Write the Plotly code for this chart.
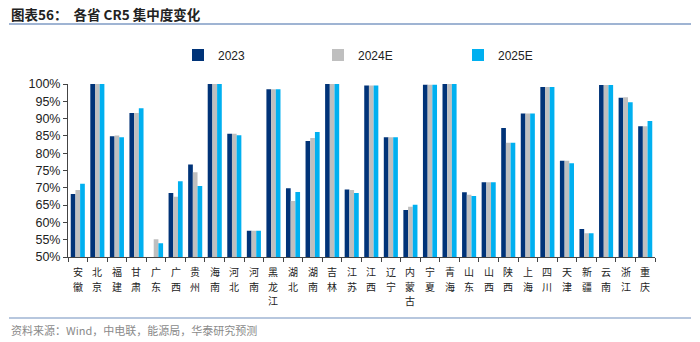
import plotly.graph_objects as go

provinces = ["安徽", "北京", "福建", "甘肃", "广东", "广西", "贵州", "海南", "河北", "河南",
             "黑龙江", "湖北", "湖南", "吉林", "江苏", "江西", "辽宁", "内蒙古", "宁夏", "青海",
             "山东", "山西", "陕西", "上海", "四川", "天津", "新疆", "云南", "浙江", "重庆"]

cr5_2023 = [68.2, 100, 84.9, 91.6, None, 68.5, 76.7, 100, 85.6, 57.6,
            98.5, 69.9, 83.5, 100, 69.5, 99.6, 84.6, 63.6, 99.8, 100,
            68.7, 71.6, 87.3, 91.5, 99.1, 77.8, 58.1, 99.7, 96.0, 87.8]
cr5_2024e = [69.4, 100, 85.1, 91.6, 55.1, 67.4, 74.5, 100, 85.6, 57.6,
             98.5, 66.2, 84.4, 100, 69.4, 99.6, 84.6, 64.5, 99.8, 100,
             68.0, 71.6, 83.0, 91.5, 99.1, 77.8, 56.9, 99.7, 96.2, 87.8]
cr5_2025e = [71.2, 100, 84.6, 93.0, 54.0, 71.9, 70.5, 100, 85.2, 57.6,
             98.5, 68.8, 86.1, 100, 68.5, 99.6, 84.6, 65.1, 99.8, 100,
             67.6, 71.6, 83.0, 91.5, 99.1, 77.1, 56.9, 99.7, 94.7, 89.3]

series_names = ["2023", "2024E", "2025E"]
colors = ["#003378", "#BFBFBF", "#00B0F0"]
ytick_vals = [50, 55, 60, 65, 70, 75, 80, 85, 90, 95, 100]
ytick_text = [f"{v}%" for v in ytick_vals]

title_text = "<b>图表56：  各省 CR5 集中度变化</b>"
source_text = "资料来源：Wind，中电联，能源局，华泰研究预测"

W, H = 700, 342
ml, mr, mt, mb = 68, 45, 84, 85
pw, ph = W - ml - mr, H - mt - mb

def px_x(px):
    return (px - ml) / pw

def px_y(py):
    return (H - mb - py) / ph

fig = go.Figure()
for name, vals, c in zip(series_names, [cr5_2023, cr5_2024e, cr5_2025e], colors):
    fig.add_trace(go.Bar(x=provinces, y=vals, name=name, marker_color=c,
                         marker_line_width=0))

fig.update_layout(
    width=W, height=H,
    margin=dict(l=ml, r=mr, t=mt, b=mb),
    paper_bgcolor="white", plot_bgcolor="white",
    barmode="group", bargap=0.28, bargroupgap=0,
    font=dict(family="Liberation Sans, Arial, sans-serif", size=12, color="#222"),
    showlegend=True,
    legend=dict(orientation="h", x=px_x(178), y=px_y(55), xanchor="left", yanchor="middle",
                font=dict(size=12, color="#222"), entrywidth=95, entrywidthmode="pixels",
                itemwidth=30, bgcolor="rgba(0,0,0,0)"),
    xaxis=dict(type="category", tickson="boundaries", ticks="outside", ticklen=4,
               tickcolor="#444", showline=True, linecolor="#444", linewidth=1,
               showticklabels=False, showgrid=False),
    yaxis=dict(range=[50, 100], tickvals=ytick_vals, ticktext=ytick_text,
               ticks="outside", ticklen=4, tickcolor="#444", showline=True,
               linecolor="#444", linewidth=1, showgrid=False, zeroline=False,
               tickfont=dict(family="Liberation Sans, Arial", size=12.5, color="#222")),
)

# vertical (stacked-character) category labels
line_step = 14.6
for p in provinces:
    for i, ch in enumerate(p):
        fig.add_annotation(text=ch, xref="x", yref="paper", x=p,
                           y=px_y(263 + i * line_step), xanchor="center", yanchor="top",
                           showarrow=False, borderpad=0,
                           font=dict(family="Noto Sans CJK SC", size=10, color="#222"))

fig.add_annotation(text=title_text, xref="paper", yref="paper", x=px_x(9), y=px_y(14),
                   xanchor="left", yanchor="middle", showarrow=False,
                   font=dict(family="Noto Sans CJK SC", size=13.5, color="#222"))
fig.add_annotation(text=source_text, xref="paper", yref="paper", x=px_x(9), y=px_y(330),
                   xanchor="left", yanchor="middle", showarrow=False,
                   font=dict(family="Noto Sans CJK SC", size=11, color="#8a8a8a"))
fig.add_shape(type="line", xref="paper", yref="paper", x0=px_x(9), x1=px_x(691),
              y0=px_y(24), y1=px_y(24), line=dict(color="#9FB4D3", width=2))
fig.add_shape(type="line", xref="paper", yref="paper", x0=px_x(9), x1=px_x(691),
              y0=px_y(318), y1=px_y(318), line=dict(color="#9FB4D3", width=1.5))

fig.write_html("out.html")
